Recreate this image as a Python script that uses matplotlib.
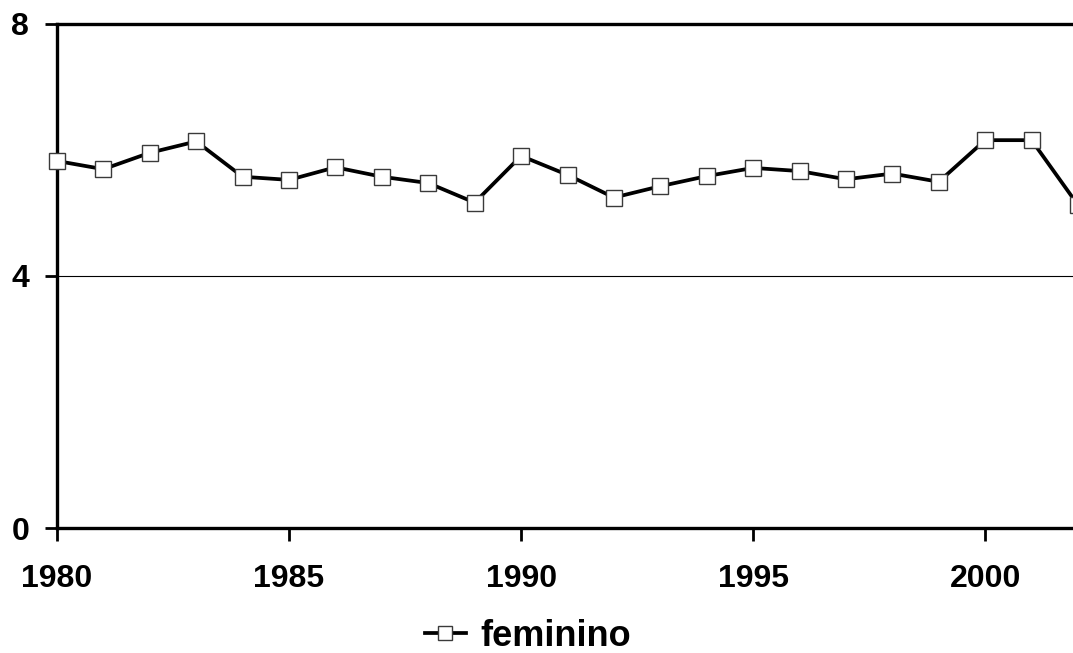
import matplotlib
matplotlib.use("Agg")
import matplotlib.pyplot as plt

plt.rcParams['font.family'] = ['Liberation Sans', 'DejaVu Sans']

years = list(range(1980, 2003))
feminino = [5.82, 5.69, 5.95, 6.13, 5.57, 5.52, 5.72, 5.57, 5.47, 5.16,
            5.90, 5.60, 5.24, 5.42, 5.58, 5.71, 5.66, 5.53, 5.62, 5.49,
            6.15, 6.15, 5.12]
x_ticks = [1980, 1985, 1990, 1995, 2000]
y_ticks = [0, 4, 8]

W, H = 1073, 653
fig = plt.figure(figsize=(W / 100, H / 100), dpi=100)
ax = fig.add_axes([57 / W, (H - 528) / H, (1078 - 57) / W, (528 - 23.5) / H])

ax.plot(years, feminino, color='black', lw=2.7, marker='s', ms=11.5,
        mfc='white', mec='#3a3a3a', mew=1.0, label='feminino', zorder=3,
        clip_on=False)

ax.set_xlim(1980, 2002)
ax.set_ylim(0, 8)
ax.set_xticks(x_ticks)
ax.set_yticks(y_ticks)
ax.axhline(4, color='black', lw=0.8, zorder=1)

ax.spines['right'].set_visible(False)
for side in ('left', 'bottom', 'top'):
    ax.spines[side].set_linewidth(2.4)
    ax.spines[side].set_color('black')

ax.tick_params(axis='both', direction='out', length=9, width=2.0,
               colors='black', labelsize=23)
ax.tick_params(axis='y', pad=11)
ax.tick_params(axis='x', pad=17)
for lab in ax.get_xticklabels() + ax.get_yticklabels():
    lab.set_fontweight('bold')

leg = fig.legend(loc='center', bbox_to_anchor=(528 / W, 1 - 636 / H),
                 frameon=False, handlelength=1.15, handletextpad=0.4,
                 prop={'weight': 'bold', 'size': 26}, markerscale=0.85)

fig.savefig('out.png', dpi=100, facecolor='white')
